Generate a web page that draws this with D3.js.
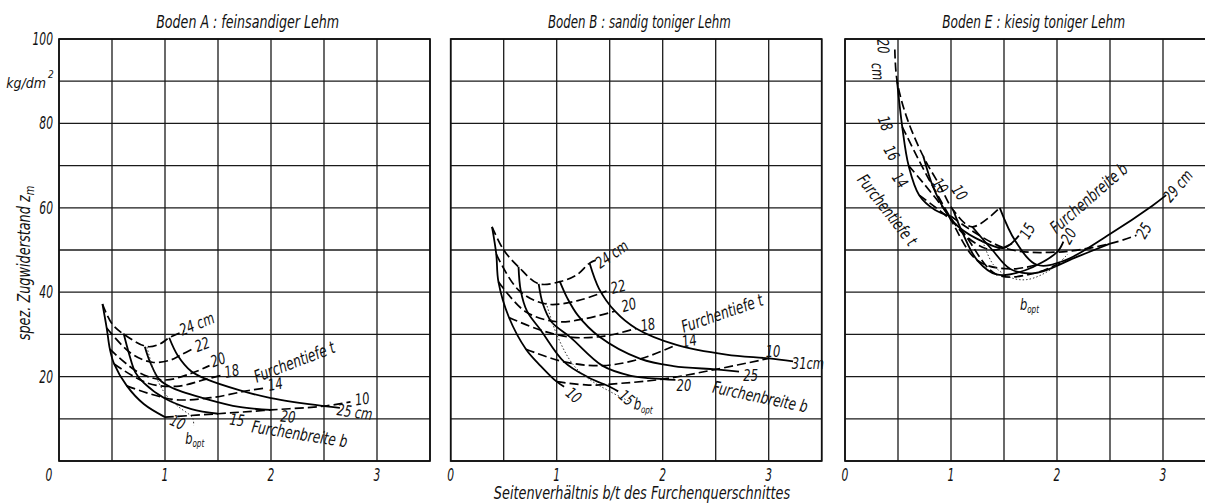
<!DOCTYPE html>
<html>
<head>
<meta charset="utf-8">
<script src="https://cdn.jsdelivr.net/npm/d3@7/dist/d3.min.js"></script>
<style>
  body { margin: 0; background: #fff; }
  text { font-family: "DejaVu Sans Condensed", "Liberation Sans Narrow", "DejaVu Sans", sans-serif; font-style: italic; fill: #111; }
</style>
</head>
<body>
<script>
// achsen
var xTicks = [0, 1, 2, 3];
var yTicks = [20, 40, 60, 80, 100];
var titles = ["Boden A : feinsandiger Lehm", "Boden B : sandig toniger Lehm", "Boden E : kiesig toniger Lehm"];

// Boden A -- Furchentiefe t (gestrichelt)
var tiefeA = [
  [[0.41,37.2],[0.5,32.5],[0.625,29.8],[0.833,27.1],[0.95,27.7],[1.04,29.2],[1.18,30.8]],
  [[0.45,31.5],[0.68,25.5],[0.88,23.4],[1.05,23.9],[1.14,25.0],[1.28,26.8]],
  [[0.48,26.5],[0.75,21],[1.0,19.2],[1.25,20.8],[1.42,22.6]],
  [[0.52,23],[0.83,18.5],[1.11,17.7],[1.39,19.4],[1.55,20.4]],
  [[0.64,17.8],[1.07,14.6],[1.43,15.0],[1.79,16.7],[1.95,17.3]],
  [[1.0,10.4],[1.5,11.2],[2.0,12.1],[2.5,13.0],[2.75,14.0]]
];
// Boden A -- Furchenbreite b (ausgezogen)
var breiteA = [
  [[0.41,37.2],[0.45,31.5],[0.48,26.5],[0.52,23],[0.64,17.8],[0.8,13.5],[1.0,10.4]],
  [[0.61,30.2],[0.66,25.5],[0.72,21],[0.8,18.5],[1.0,14.8],[1.25,12.3],[1.5,11.2]],
  [[0.81,27.1],[0.86,23.4],[0.95,19.2],[1.08,17.2],[1.4,14.6],[1.7,12.8],[2.0,12.1]],
  [[1.04,29.2],[1.12,25.0],[1.25,21.2],[1.39,19.4],[1.7,16.8],[2.0,14.9],[2.5,13.0],[2.65,12.6]]
];
var boptA = [[0.83,27],[0.9,21],[1.0,16],[1.12,13],[1.26,10.2],[1.27,8.4]];

// Boden B
var tiefeB = [
  [[0.39,55.5],[0.5,50],[0.64,46],[0.83,42],[1.03,42.5],[1.19,44.1],[1.31,46.9],[1.37,47.6]],
  [[0.43,49],[0.64,40.5],[0.9,37.2],[1.2,38],[1.47,40.3]],
  [[0.45,42.5],[0.7,35.5],[1.0,33],[1.28,33.8],[1.55,35.5]],
  [[0.55,34],[0.85,31],[1.15,29.3],[1.45,29.6],[1.75,31.4]],
  [[0.71,26.5],[1.07,23.5],[1.43,22.6],[1.79,24.2],[2.13,27.5]],
  [[1.0,18.8],[1.3,18.0],[1.6,18.4],[2.0,19.4],[2.5,21.7],[3.0,24.3]]
];
var breiteB = [
  [[0.39,55.5],[0.43,49],[0.45,42.5],[0.55,34],[0.71,26.5],[0.85,22.5],[1.0,18.8],[1.07,17.6]],
  [[0.64,46],[0.66,40.5],[0.72,35.5],[0.85,31],[1.07,23.5],[1.3,19.8],[1.5,17.6],[1.58,16.5]],
  [[0.83,42],[0.87,37.2],[0.95,33],[1.13,29.3],[1.43,22.6],[1.7,20.2],[2.0,19.4],[2.12,19.2]],
  [[1.03,42.5],[1.1,38.6],[1.2,34.5],[1.4,29.5],[1.79,24.2],[2.1,22.5],[2.5,21.7],[2.72,21.2]],
  [[1.31,46.9],[1.4,40.8],[1.55,35.5],[1.75,31.4],[2.13,27.5],[2.6,25.2],[3.0,24.3],[3.23,23.6]]
];
var boptB = [[0.9,37.5],[1.0,30],[1.15,23],[1.3,19.5],[1.5,16.5],[1.68,14.2]];

// Boden E
var tiefeC = [
  [[0.47,97.5],[0.49,90.3],[0.58,81.6],[0.74,72.1],[0.9,65],[1.02,59.5],[1.2,55.5],[1.46,60]],
  [[0.54,79.2],[0.83,65],[1.11,54],[1.39,50],[1.61,52]],
  [[0.6,70],[0.94,59.5],[1.25,47.5],[1.56,45.5],[1.81,46.5]],
  [[0.7,63],[1.07,55.5],[1.43,44.2],[1.79,44.5],[2.07,47.5]],
  [[1.0,58],[1.5,50.5],[2.0,49.5],[2.5,51.5],[2.75,53.5]]
];
var breiteC = [
  [[0.49,90.3],[0.54,79.2],[0.6,70],[0.7,63],[0.85,59.5],[1.0,58]],
  [[0.74,72.1],[0.83,65],[0.94,59.5],[1.07,55.5],[1.3,52],[1.5,50.5],[1.64,53.4]],
  [[1.02,59.5],[1.11,54],[1.25,47.5],[1.43,44.2],[1.7,45.2],[2.0,49.5],[2.06,52]],
  [[1.2,55.5],[1.39,50],[1.56,45.5],[1.79,44.5],[2.2,48.5],[2.5,51.5]],
  [[1.46,60],[1.61,52],[1.81,46.5],[2.07,47.5],[2.5,53.8],[2.9,60.5],[3.03,63]]
];
var boptC = [[1.3,52],[1.4,46.5],[1.55,43.6],[1.72,43],[1.95,45.5],[2.1,49]];

// beschriftungen: text, x, y, drehung
var labelsA = [
  ["24 cm",1.3,32.5,-22],["22",1.35,27.6,-20],["20",1.5,24,-20],["18",1.63,21.3,-12],
  ["Furchentiefe t",2.22,23.5,-21],["14",2.04,18.2,-10],["10",2.86,14.7,-8],
  ["25 cm",2.79,11.6,8],["20",2.16,10.5,6],["15",1.68,9.7,8],["10",1.12,9.2,25],
  ["Furchenbreite b",2.27,6.4,9],["b",1.28,5.3,0]
];
var labelsB = [
  ["24 cm",1.52,49,-35],["22",1.58,41.3,-15],["20",1.68,37,-15],["18",1.86,32.3,-10],
  ["Furchentiefe t",2.56,35,-19],["14",2.25,28.5,-10],["10",3.04,25.9,0],["31cm",3.37,23.2,0],
  ["25",2.83,20.2,0],["20",2.2,17.8,0],["15",1.66,15.0,40],["10",1.16,15.6,40],
  ["Furchenbreite b",2.92,15.2,12],["b",1.82,13.4,5]
];
var labelsC = [
  ["20",0.36,98.3,85],["cm",0.31,92.3,85],["18",0.38,80,70],["16",0.44,73,60],["14",0.52,66.5,55],
  ["Furchentiefe t",0.4,59.5,52],["10",0.9,65.2,55],["10",1.08,63.6,55],
  ["15",1.72,54.5,-60],["20",2.11,53.3,-60],["Furchenbreite b",2.3,62.3,-41],["25",2.82,54.6,-60],["29 cm",3.14,65.2,-50],
  ["b",1.74,37.2,0]
];

var panels = [
  {left: 59, title: titles[0], tiefe: tiefeA, breite: breiteA, bopt: boptA, labels: labelsA},
  {left: 450.7, title: titles[1], tiefe: tiefeB, breite: breiteB, bopt: boptB, labels: labelsB},
  {left: 845, title: titles[2], tiefe: tiefeC, breite: breiteC, bopt: boptC, labels: labelsC}
];

var width = 1205, height = 503,
    plotTop = 39, plotBottom = 461, pw = 371;

var svg = d3.select("body").append("svg")
    .attr("width", width)
    .attr("height", height);

svg.append("rect").attr("width", width).attr("height", height).attr("fill", "#fff");

panels.forEach(function(p, i) {
  var x = d3.scaleLinear().domain([0, 3.5]).range([p.left, p.left + pw]);
  var y = d3.scaleLinear().domain([0, 100]).range([plotBottom, plotTop]);
  var g = svg.append("g");

  // gitter
  g.selectAll(".vgrid")
      .data(d3.range(0, 3.51, 0.5))
    .enter().append("line")
      .attr("x1", function(d) { return x(d); })
      .attr("x2", function(d) { return x(d); })
      .attr("y1", plotTop).attr("y2", plotBottom)
      .attr("stroke", "#1a1a1a").attr("stroke-width", 1.3);
  g.selectAll(".hgrid")
      .data(d3.range(0, 101, 10))
    .enter().append("line")
      .attr("x1", x(0)).attr("x2", x(3.5))
      .attr("y1", function(d) { return y(d); })
      .attr("y2", function(d) { return y(d); })
      .attr("stroke", "#1a1a1a").attr("stroke-width", 1.3);
  g.append("rect")
      .attr("x", x(0)).attr("y", plotTop)
      .attr("width", pw).attr("height", plotBottom - plotTop)
      .attr("fill", "none").attr("stroke", "#111").attr("stroke-width", 1.7);

  // titel
  g.append("text")
      .attr("class", "fixed")
      .attr("x", x(1.78)).attr("y", 28)
      .attr("text-anchor", "middle")
      .attr("font-size", "17px")
      .attr("textLength", 183)
      .attr("lengthAdjust", "spacingAndGlyphs")
      .text(p.title);

  // x-achse
  g.selectAll(".xt")
      .data(xTicks)
    .enter().append("text")
      .attr("class", "tick")
      .attr("x", function(d) { return x(d) - (i == 0 && d == 0 ? 10 : 0); })
      .attr("y", 481)
      .attr("text-anchor", "middle")
      .attr("font-size", "17px")
      .text(function(d) { return d; });

  var line = d3.line()
      .x(function(d) { return x(d[0]); })
      .y(function(d) { return y(d[1]); })
      .curve(d3.curveCatmullRom.alpha(0.5));

  g.selectAll(".tiefe")
      .data(p.tiefe)
    .enter().append("path")
      .attr("d", line)
      .attr("fill", "none").attr("stroke", "#000")
      .attr("stroke-width", 1.7)
      .attr("stroke-dasharray", "9,4");

  g.selectAll(".breite")
      .data(p.breite)
    .enter().append("path")
      .attr("d", line)
      .attr("fill", "none").attr("stroke", "#000")
      .attr("stroke-width", 1.8);

  g.append("path")
      .attr("d", line(p.bopt))
      .attr("fill", "none").attr("stroke", "#333")
      .attr("stroke-width", 1)
      .attr("stroke-dasharray", "1.5,2");

  var lab = g.selectAll(".lab")
      .data(p.labels)
    .enter().append("text")
      .attr("class", "curve")
      .attr("transform", function(d) {
        return "translate(" + x(d[1]) + "," + y(d[2]) + ") rotate(" + d[3] + ")";
      })
      .attr("text-anchor", "middle")
      .attr("dy", "0.35em")
      .attr("font-size", function(d) { return d[0].length > 6 ? "17px" : "16px"; })
      .text(function(d) { return d[0]; });
  lab.filter(function(d) { return d[0] == "b"; })
    .append("tspan")
      .attr("font-size", "10px")
      .attr("dy", "0.3em")
      .text("opt");
});

// y-achse (nur links)
var yA = d3.scaleLinear().domain([0, 100]).range([plotBottom, plotTop]);
svg.selectAll(".yt")
    .data(yTicks)
  .enter().append("text")
    .attr("class", "tick")
    .attr("x", 53).attr("y", function(d) { return yA(d); })
    .attr("dy", "0.35em")
    .attr("text-anchor", "end")
    .attr("font-size", "17px")
    .text(function(d) { return d; });

// einheit kg/dm², hochgestellte 2 als eigener text
svg.append("text")
    .attr("x", 46).attr("y", yA(90) + 2)
    .attr("dy", "0.35em")
    .attr("text-anchor", "end")
    .attr("font-size", "14px")
    .text("kg/dm");
svg.append("text")
    .attr("x", 48).attr("y", yA(90) - 3)
    .attr("font-size", "10px")
    .text("2");

var ylab = svg.append("text")
    .attr("class", "axis")
    .attr("transform", "translate(30,263) rotate(-90)")
    .attr("text-anchor", "middle")
    .attr("font-size", "17px")
    .text("spez. Zugwiderstand z");
ylab.append("tspan").attr("font-size", "13px").attr("dy", "0.3em").text("m");

svg.append("text")
    .attr("class", "axis")
    .attr("x", 642).attr("y", 499)
    .attr("text-anchor", "middle")
    .attr("font-size", "17px")
    .text("Seitenverhältnis b/t des Furchenquerschnittes");

// schmale normschrift nachahmen
var squeeze = {tick: 0.7, curve: 0.8, axis: 0.84};
svg.selectAll("text").each(function() {
  var k = squeeze[this.getAttribute("class")];
  if (!k) return;
  d3.select(this)
      .attr("textLength", this.getComputedTextLength() * k)
      .attr("lengthAdjust", "spacingAndGlyphs");
});
</script>
</body>
</html>
